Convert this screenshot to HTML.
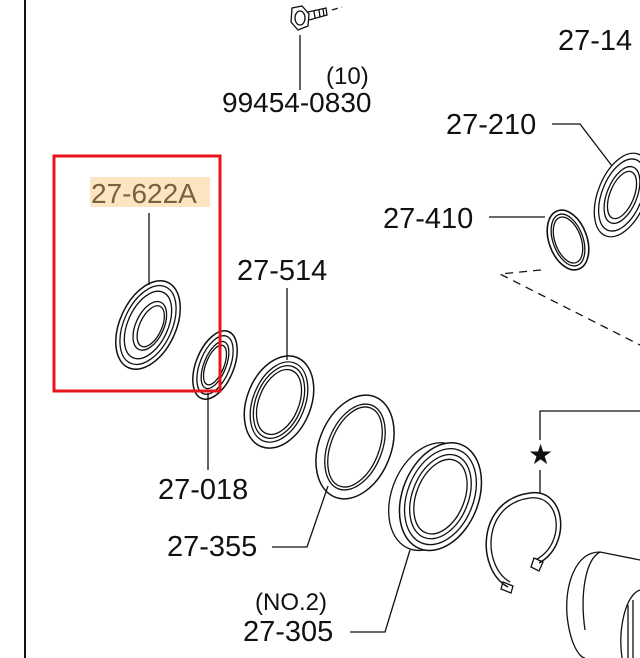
<!DOCTYPE html>
<html><head><meta charset="utf-8"><style>
html,body{margin:0;padding:0;background:#fff;}
svg{display:block}
text{font-family:"Liberation Sans",sans-serif;fill:#111}
</style></head><body>
<svg width="640" height="658" viewBox="0 0 640 658" xmlns="http://www.w3.org/2000/svg">
<g fill="none" stroke="#111" stroke-width="1.3">
<line x1="25" y1="0" x2="25" y2="658" stroke-width="2"/>
<g transform="translate(300,18)">
<polygon points="-8,-10 2,-12 9,-4 8,8 -2,12 -9,4" />
<ellipse cx="0" cy="0" rx="5" ry="7"/>
<path d="M8,-6 L26,-10 L27,-3 L9,2"/>
<line x1="14" y1="-7" x2="15" y2="0"/><line x1="19" y1="-8" x2="20" y2="-1"/><line x1="23" y1="-9" x2="24" y2="-2"/>
<path d="M32,-8 L42,-11" stroke-dasharray="6,4"/>
</g>
<line x1="300" y1="35" x2="300" y2="90"/>
<path d="M552,124 L580,124 L612,166"/>
<g transform="translate(622,195) rotate(22)">
<ellipse rx="24" ry="44"/><ellipse rx="20" ry="38"/><ellipse rx="15" ry="30"/><ellipse rx="12" ry="25"/>
<path d="M0,-44 L20,-48"/>
</g>
<line x1="489" y1="217" x2="545" y2="217"/>
<g transform="translate(568,240) rotate(-20)">
<ellipse rx="19" ry="31" stroke-width="1.6"/><ellipse rx="15" ry="27"/><ellipse rx="13" ry="24"/>
</g>
<path d="M541,270 L500,274 L640,345" stroke-dasharray="8,6"/>
<line x1="149" y1="213" x2="149" y2="285"/>
<g transform="translate(148,325) rotate(25)">
<ellipse rx="28" ry="47" stroke-width="1.5"/><ellipse rx="24" ry="42"/><ellipse rx="20" ry="36"/>
<ellipse cx="2" cy="0" rx="14" ry="26"/><ellipse cx="3" cy="0" rx="11" ry="22"/>
</g>
<g transform="translate(215,365) rotate(22)">
<ellipse rx="19" ry="36" stroke-width="1.5"/><ellipse rx="15" ry="31"/><ellipse rx="11" ry="25"/><ellipse rx="9" ry="21"/>
</g>
<line x1="208" y1="393" x2="208" y2="470"/>
<line x1="287" y1="288" x2="287" y2="360"/>
<g transform="translate(279,402) rotate(22)">
<ellipse rx="32" ry="48" stroke-width="1.5"/><ellipse rx="26" ry="42"/><ellipse rx="23" ry="38"/><ellipse rx="20" ry="34"/>
</g>
<g transform="translate(355,447) rotate(22)">
<ellipse rx="36" ry="54" stroke-width="1.5"/><ellipse rx="27" ry="45"/><ellipse rx="24" ry="42"/>
</g>
<path d="M272,547 L307,547 L328,486"/>
<g transform="translate(436,497) rotate(22)">
<ellipse cx="-6" cy="2" rx="38" ry="56"/>
<ellipse cx="4" cy="-2" rx="38" ry="56" fill="#fff" stroke-width="1.5"/>
<ellipse cx="4" cy="-2" rx="33" ry="50"/><ellipse cx="4" cy="-2" rx="28" ry="44"/><ellipse cx="4" cy="-2" rx="24" ry="39"/>
</g>
<path d="M350,632 L385,632 L410,550"/>
<path d="M540,440 L540,411 L640,411"/>
<line x1="540" y1="470" x2="540" y2="493"/>
<path d="M508,587 C476,570 476,500 530,493 C566,488 572,545 539,563" stroke-width="1.5"/>
<path d="M510,582 C482,566 482,504 530,498 C561,494 566,543 537,559"/>
<path d="M503,582 L513,586 L511,593 L501,589 Z"/>
<path d="M534,558 L543,562 L539,571 L531,567 Z"/>
<path d="M640,560 L600,552 C575,552 565,585 567,615 C570,645 580,658 585,658"/>
<path d="M600,552 C585,560 580,595 585,630"/>
<path d="M640,590 C625,595 618,630 622,658"/>
<line x1="628" y1="605" x2="628" y2="658"/><line x1="633" y1="600" x2="633" y2="658"/>
</g>
<rect x="54" y="156" width="166" height="235" fill="none" stroke="#e8141c" stroke-width="3"/>
<text x="528" y="464" font-size="28" style="font-family:'DejaVu Sans',sans-serif">★</text>
<rect x="90" y="177" width="120" height="30" fill="#fde5c4"/>
<text x="91" y="203" font-size="28" style="fill:#7a6040">27-622A</text>
<text x="326" y="84" font-size="24">(10)</text>
<text x="222" y="112" font-size="28">99454-0830</text>
<text x="558" y="50" font-size="29">27-14</text>
<text x="446" y="134" font-size="29">27-210</text>
<text x="383" y="228" font-size="29">27-410</text>
<text x="237" y="280" font-size="29">27-514</text>
<text x="158" y="499" font-size="29">27-018</text>
<text x="167" y="556" font-size="29">27-355</text>
<text x="255" y="610" font-size="24">(NO.2)</text>
<text x="243" y="641" font-size="29">27-305</text>
</svg>
</body></html>
